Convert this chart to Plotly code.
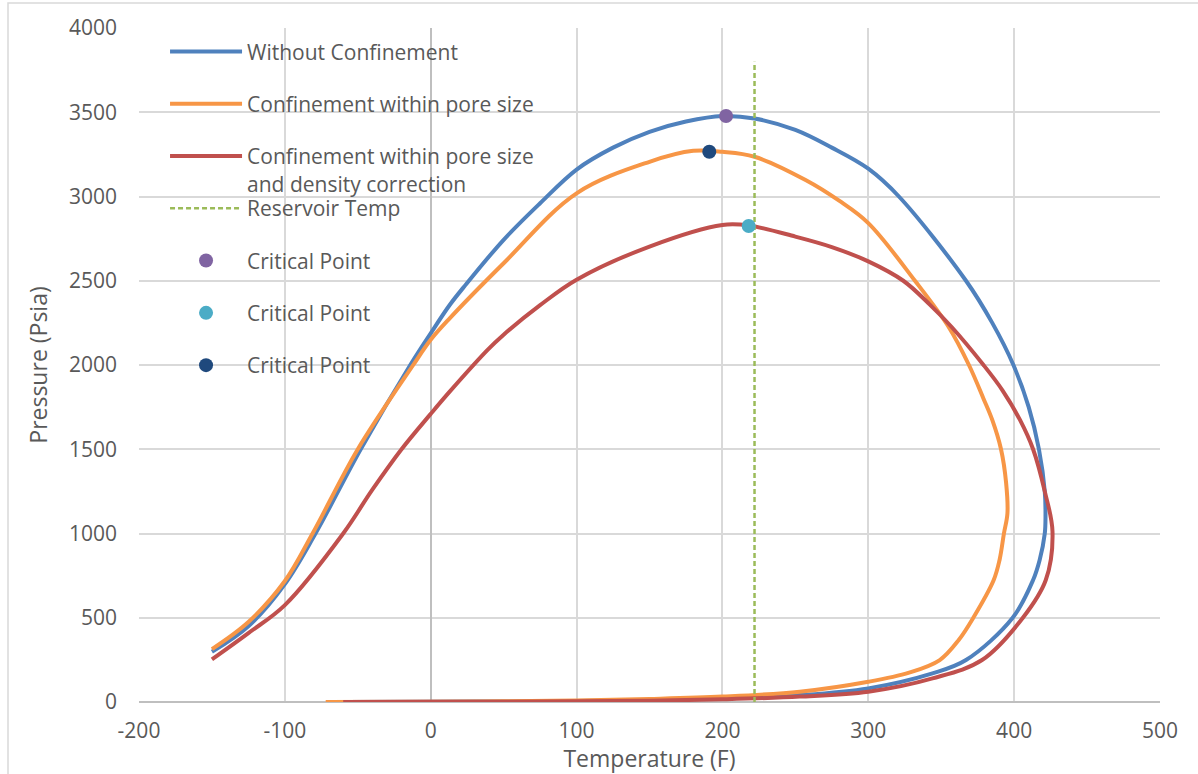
import plotly.graph_objects as go

# ---------------- data ----------------
blue_T = [-150, -125, -100, -79, -48, -14, 0, 13, 23, 50, 75, 100, 125, 150, 175, 200, 222, 250, 275, 300, 321, 367, 385, 399.5, 410, 417, 421, 421.5, 421, 417.5, 413, 399, 367, 344, 300, 253, 200, 150, 100, 50, 0, -60]
blue_P = [298, 450, 700, 1000, 1500, 2000, 2188, 2356, 2466, 2743, 2960, 3160, 3290, 3384, 3445, 3478, 3463, 3395, 3290, 3165, 3000, 2500, 2250, 2000, 1750, 1500, 1250, 1100, 1000, 843, 724, 500, 249, 170, 81, 41, 22, 12, 6, 3, 1, 0]

orange_T = [-150, -125, -100, -81, -50, -12, 0, 13, 50, 100, 150, 180, 200, 222, 257, 280, 300, 332, 355, 369, 379, 385, 391, 394.5, 395.4, 393, 390, 386, 372, 362, 349, 328, 300, 253, 200, 150, 100, 50, 0, -72]
orange_P = [314, 475, 718, 1000, 1500, 2000, 2150, 2277, 2604, 3019, 3206, 3271, 3265, 3236, 3098, 2975, 2842, 2500, 2227, 2000, 1800, 1674, 1500, 1300, 1120, 1000, 843, 724, 500, 368, 249, 174, 120, 61, 32, 18, 9, 4, 2, 0]

red_T = [-150, -125, -100, -60, -40, -20, 0, 13, 39, 50, 75, 100, 150, 200, 218, 250, 275, 300, 324, 342, 357, 379, 392, 404, 413, 421, 426.3, 421.7, 406, 378, 344, 300, 253, 200, 150, 100, 50, 0, -60]
red_P = [253, 409, 575, 1000, 1260, 1500, 1710, 1842, 2090, 2180, 2355, 2506, 2703, 2831, 2828, 2762, 2700, 2615, 2500, 2360, 2227, 2000, 1850, 1674, 1500, 1250, 1011, 724, 500, 249, 140, 61, 32, 16, 8, 4, 2, 1, 0]

res_T = [222, 222]
res_P = [0, 3800]

cp_names = ["Critical Point", "Critical Point", "Critical Point"]
cp_T = [202.5, 218, 191]
cp_P = [3478, 2825, 3266]
cp_colors = ["#8064A2", "#4BACC6", "#1F497D"]

x_ticks = [-200, -100, 0, 100, 200, 300, 400, 500]
x_tick_text = ["-200", "-100", "0", "100", "200", "300", "400", "500"]
y_ticks = [0, 500, 1000, 1500, 2000, 2500, 3000, 3500, 4000]

FONT = "Open Sans"
TXT = "#595959"

fig = go.Figure()

series = [
    ("Without Confinement", blue_T, blue_P, "#4F81BD"),
    ("Confinement within pore size", orange_T, orange_P, "#F79646"),
    ("Confinement within pore size<br>and density correction", red_T, red_P, "#C0504D"),
]
for i, (name, t, p, c) in enumerate(series):
    fig.add_trace(go.Scatter(
        x=t, y=p, mode="lines", name=name,
        line=dict(color=c, width=4, shape="spline", smoothing=1.0),
        legend="legend", legendgroup=f"g{i}",
    ))

fig.add_trace(go.Scatter(
    x=res_T, y=res_P, mode="lines", name="Reservoir Temp",
    line=dict(color="#9BBB59", width=2.5, dash="5px,3px"),
    legend="legend2", legendgroup="g3",
))

for i, (n, t, p, c) in enumerate(zip(cp_names, cp_T, cp_P, cp_colors)):
    fig.add_trace(go.Scatter(
        x=[t], y=[p], mode="markers", name=n,
        marker=dict(color=c, size=14),
        legend="legend2", legendgroup=f"cp{i}",
    ))

axis_common = dict(
    showgrid=True, gridcolor="#D9D9D9", gridwidth=1.5,
    showline=False, ticks="",
    tickfont=dict(family=FONT, size=21, color=TXT),
    zeroline=True, zerolinecolor="#BFBFBF", zerolinewidth=1.5,
)

legend_common = dict(
    xanchor="left", yanchor="top",
    bgcolor="rgba(0,0,0,0)", borderwidth=0,
    font=dict(family=FONT, size=21, color=TXT),
    tracegroupgap=22, itemwidth=72,
)

fig.update_layout(
    width=1198, height=774,
    margin=dict(l=139, r=38, t=28, b=72),
    paper_bgcolor="white", plot_bgcolor="white",
    font=dict(family=FONT, color=TXT),
    xaxis=dict(
        range=[-200, 500], tickvals=x_ticks, ticktext=x_tick_text,
        title=dict(text="Temperature (F)", font=dict(family=FONT, size=23, color=TXT), standoff=0),
        ticklabelstandoff=14,
        **axis_common,
    ),
    yaxis=dict(
        range=[0, 4000], tickvals=y_ticks,
        title=dict(text="Pressure (Psia)", font=dict(family=FONT, size=23, color=TXT), standoff=14),
        ticklabelstandoff=21,
        **axis_common,
    ),
    legend=dict(x=0.0255, y=0.995, valign="top", **legend_common),
    legend2=dict(x=0.0255, y=0.7625, valign="middle", **legend_common),
    showlegend=True,
    shapes=[dict(
        type="rect", xref="paper", yref="paper",
        x0=(8 - 139) / 1021, x1=1.2, y0=-0.3, y1=(702 - 3) / 674,
        line=dict(color="#D9D9D9", width=1.5), fillcolor="rgba(0,0,0,0)", layer="below",
    )],
)

fig.write_html("out.html")
